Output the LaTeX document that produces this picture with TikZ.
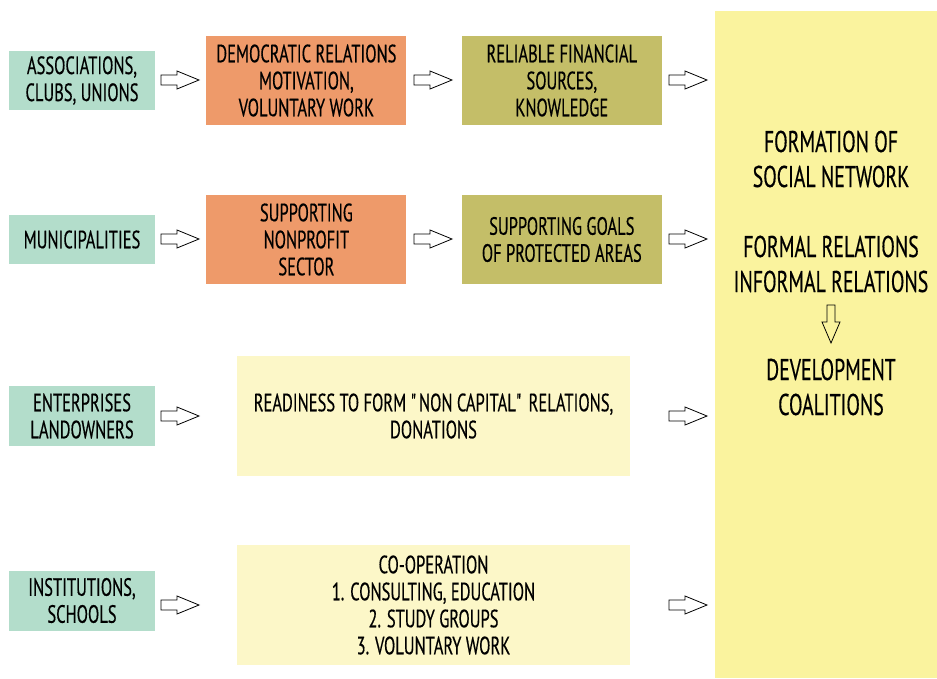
\documentclass[tikz,border=0pt]{standalone}
\usepackage{fontspec}
\setmainfont{PT Sans}[FakeStretch=0.66, FakeBold=0.4]
\usepackage{xcolor}
\usetikzlibrary{positioning,calc}

\definecolor{actorgreen}{RGB}{179,221,203}
\definecolor{motiveorange}{RGB}{238,154,106}
\definecolor{resourceolive}{RGB}{196,190,104}
\definecolor{networkyellow}{RGB}{250,243,158}
\definecolor{offeryellow}{RGB}{252,247,200}

\begin{document}
\begin{tikzpicture}[
    x=1pt, y=-1pt,
    actor/.style={rectangle, fill=actorgreen, minimum width=146pt, align=center, inner sep=0pt, font=\fontsize{25}{27}\selectfont},
    motive/.style={rectangle, fill=motiveorange, minimum width=200pt, minimum height=89pt, align=center, inner sep=0pt, font=\fontsize{25}{27}\selectfont},
    resource/.style={rectangle, fill=resourceolive, minimum width=200pt, minimum height=89pt, align=center, inner sep=0pt, font=\fontsize{25}{27}\selectfont},
    offer/.style={rectangle, fill=offeryellow, minimum width=393pt, minimum height=120pt, align=center, inner sep=0pt, font=\fontsize{25}{27}\selectfont},
    result/.style={align=center, inner sep=0pt, font=\fontsize{30}{35}\selectfont},
    hollow/.pic={\draw[line width=0.8pt, fill=white] (-19,-5) -- (-3,-5) -- (-3,-9) -- (19,0) -- (-3,9) -- (-3,5) -- (-19,5) -- cycle;},
    hollowdown/.pic={\draw[line width=0.8pt] (-4,-19) -- (-4,-2) -- (-9,-2) -- (0,19) -- (9,-2) -- (4,-2) -- (4,-19) -- cycle;},
]
\useasboundingbox (0,0) rectangle (937,678);

% Right column: social network
\node[rectangle, fill=networkyellow, minimum width=222pt, minimum height=667pt, inner sep=0pt] (network) at (826,344.5) {};
\node[result] (formation) at (831,159) {FORMATION OF\\SOCIAL NETWORK};
\node[result] (relations) at (831,264) {FORMAL RELATIONS\\INFORMAL RELATIONS};
\node[result] (coalitions) at (831,387) {DEVELOPMENT\\COALITIONS};
\pic at (831,324) {hollowdown};

% Row 1
\node[actor, minimum height=59pt] (assoc) at (82,80.5) {ASSOCIATIONS,\\CLUBS, UNIONS};
\node[motive, right=51pt of assoc] (democ) {DEMOCRATIC RELATIONS\\MOTIVATION,\\VOLUNTARY WORK};
\node[resource, right=55pt of democ] (finance) {RELIABLE FINANCIAL\\SOURCES,\\KNOWLEDGE};

% Row 2
\node[actor, minimum height=49pt] (munic) at (82,239.5) {MUNICIPALITIES};
\node[motive, right=51pt of munic] (nonprofit) {SUPPORTING\\NONPROFIT\\SECTOR};
\node[resource, right=55pt of nonprofit] (goals) {SUPPORTING GOALS\\OF PROTECTED AREAS};

% Row 3
\node[actor, minimum height=60pt] (enterp) at (82,416) {ENTERPRISES\\LANDOWNERS};
\node[offer] (ready) at (433.5,416) {READINESS TO FORM \textquotedbl NON CAPITAL\textquotedbl{} RELATIONS,\\DONATIONS};

% Row 4
\node[actor, minimum height=60pt] (instit) at (82,600.5) {INSTITUTIONS,\\SCHOOLS};
\node[offer] (coop) at (433.5,605) {CO-OPERATION\\1. CONSULTING, EDUCATION\\2. STUDY GROUPS\\3. VOLUNTARY WORK};

% Arrows
\foreach \y in {80,239,416,605} {
    \pic at (180,\y) {hollow};
    \pic at (688,\y) {hollow};
}
\foreach \y in {80,239}
    \pic at (433,\y) {hollow};

\end{tikzpicture}
\end{document}
